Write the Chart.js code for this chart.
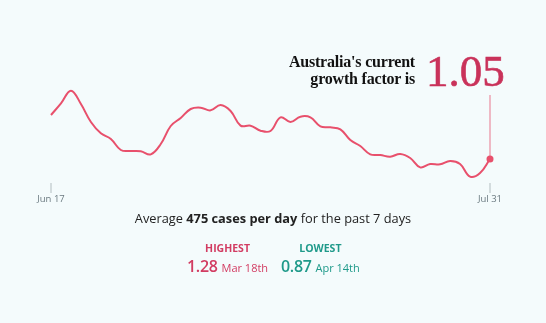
<!DOCTYPE html>
<html>
<head>
<meta charset="utf-8">
<script src="https://cdn.jsdelivr.net/npm/chart.js@4"></script>
<style>
    html, body { margin: 0; padding: 0; background: #f4fbfc; }
    #wrap { position: relative; width: 546px; height: 323px; overflow: hidden; }
    #growthChart { position: absolute; left: 0; top: 0; }
    .title {
        position: absolute; right: 131px; top: 53px; text-align: right;
        font-family: 'Liberation Serif', serif; font-weight: bold; font-size: 16px;
        line-height: 17px; color: #111; letter-spacing: -0.2px;
    }
    .big {
        position: absolute; left: 426px; top: 47px;
        font-family: 'Liberation Serif', serif; font-size: 45px; line-height: 48px;
        color: #c9325a; -webkit-text-stroke: 0.6px #c9325a;
    }
    .avg {
        position: absolute; left: 0; width: 546px; top: 209px; text-align: center;
        font-family: 'Open Sans', sans-serif; font-size: 12.8px; color: #222;
    }
    .avg b { font-weight: 700; }
    .stat { position: absolute; top: 241px; text-align: center; font-family: 'Open Sans', sans-serif; }
    .stat .lbl { font-size: 10.5px; font-weight: 700; line-height: 14px; }
    .stat .val { font-size: 16px; line-height: 22px; font-weight: 600; letter-spacing: -0.3px; }
    .stat .val small { font-size: 11px; font-weight: 400; letter-spacing: 0; }
    .hi { left: 187px; color: #d23c62; }
    .lo { left: 281px; color: #1f9a8a; }
</style>
</head>
<body>
<div id="wrap">
    <canvas id="growthChart" width="546" height="323"></canvas>
    <div class="title">Australia's current<br>growth factor is</div>
    <div class="big">1.05</div>
    <div class="avg">Average <b>475 cases per day</b> for the past 7 days</div>
    <div class="stat hi"><div class="lbl">HIGHEST</div><div class="val">1.28 <small>Mar 18th</small></div></div>
    <div class="stat lo"><div class="lbl">LOWEST</div><div class="val">0.87 <small>Apr 14th</small></div></div>
</div>
<script>
// Jun 17 .. Jul 31, one value per day
const dates = [
    'Jun 17','Jun 18','Jun 19','Jun 20','Jun 21','Jun 22','Jun 23','Jun 24','Jun 25','Jun 26',
    'Jun 27','Jun 28','Jun 29','Jun 30','Jul 1','Jul 2','Jul 3','Jul 4','Jul 5','Jul 6',
    'Jul 7','Jul 8','Jul 9','Jul 10','Jul 11','Jul 12','Jul 13','Jul 14','Jul 15','Jul 16',
    'Jul 17','Jul 18','Jul 19','Jul 20','Jul 21','Jul 22','Jul 23','Jul 24','Jul 25','Jul 26',
    'Jul 27','Jul 28','Jul 29','Jul 30','Jul 31'
];
const growthFactor = [
    1.182, 1.217, 1.255, 1.215, 1.161, 1.127, 1.110, 1.077, 1.074, 1.073,
    1.064, 1.095, 1.149, 1.173, 1.200, 1.204, 1.196, 1.212, 1.194, 1.150,
    1.150, 1.135, 1.134, 1.175, 1.161, 1.177, 1.175, 1.148, 1.145, 1.139,
    1.107, 1.089, 1.064, 1.062, 1.057, 1.065, 1.053, 1.025, 1.035, 1.034,
    1.044, 1.035, 0.997, 1.008, 1.050
];
const tickLabels = ['Jun 17', 'Jul 31'];

const LINE = '#e8506c';

// end marker stem + first/last date ticks
const extrasPlugin = {
    id: 'extras',
    afterDatasetsDraw(chart) {
        const { ctx, scales: { x, y } } = chart;
        const last = growthFactor.length - 1;
        const lx = x.getPixelForValue(last);
        const ly = y.getPixelForValue(growthFactor[last]);
        ctx.save();
        ctx.strokeStyle = '#eda3b3';
        ctx.lineWidth = 1.5;
        ctx.beginPath();
        ctx.moveTo(lx, 95);
        ctx.lineTo(lx, ly);
        ctx.stroke();

        ctx.fillStyle = LINE;
        ctx.beginPath();
        ctx.arc(lx, ly, 3.5, 0, Math.PI * 2);
        ctx.fill();

        ctx.strokeStyle = '#c9d2d5';
        ctx.lineWidth = 1.5;
        ctx.font = '9.5px "Open Sans", sans-serif';
        ctx.fillStyle = '#6b7a80';
        ctx.textAlign = 'center';
        ctx.textBaseline = 'middle';
        tickLabels.forEach(lbl => {
            const px = x.getPixelForValue(dates.indexOf(lbl));
            ctx.beginPath();
            ctx.moveTo(px, 183);
            ctx.lineTo(px, 193);
            ctx.stroke();
            ctx.fillText(lbl, px, 199);
        });
        ctx.restore();
    }
};

new Chart(document.getElementById('growthChart'), {
    type: 'line',
    data: {
        labels: dates,
        datasets: [{
            data: growthFactor,
            borderColor: LINE,
            borderWidth: 2,
            pointRadius: 0,
            tension: 0.4,
            fill: false,
            clip: false
        }]
    },
    options: {
        responsive: false,
        animation: false,
        layout: { padding: { left: 51, right: 56, top: 90, bottom: 143 } },
        plugins: { legend: { display: false }, tooltip: { enabled: false } },
        scales: {
            x: { display: false },
            y: { display: false, min: 0.987, max: 1.257 }
        }
    },
    plugins: [extrasPlugin]
});
</script>
</body>
</html>
